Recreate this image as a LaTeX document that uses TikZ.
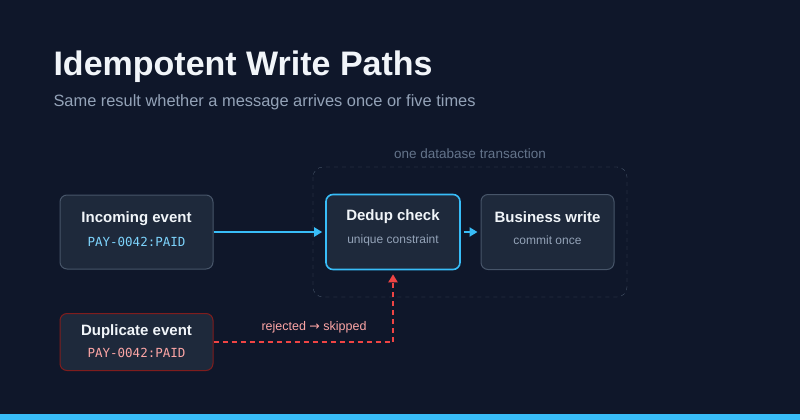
\documentclass[tikz,border=0pt]{standalone}
\usepackage{fontspec}
\setmainfont{Liberation Sans}
\setmonofont{DejaVu Sans Mono}
\newfontfamily\symfont{DejaVu Sans}
\usepackage{tikz}
\usetikzlibrary{arrows.meta}
\definecolor{bgcol}{HTML}{0F172A}
\definecolor{boxfill}{HTML}{1E293B}
\definecolor{boxline}{HTML}{475569}
\definecolor{sky}{HTML}{38BDF8}
\definecolor{skytext}{HTML}{7DD3FC}
\definecolor{redline}{HTML}{EF4444}
\definecolor{redtext}{HTML}{FCA5A5}
\definecolor{redbox}{HTML}{7F1D1D}
\definecolor{titlecol}{HTML}{F1F5F9}
\definecolor{subcol}{HTML}{94A3B8}
\definecolor{mutecol}{HTML}{64748B}

\begin{document}
\begin{tikzpicture}[x=1pt,y=-1pt,
  box/.style={draw=boxline, line width=1pt, fill=boxfill, rounded corners=7pt, minimum width=153pt, minimum height=74pt},
  head/.style={text=titlecol, font=\fontsize{15}{18}\selectfont\bfseries},
  sub/.style={text=subcol, font=\fontsize{12}{14}\selectfont},
  code/.style={font=\fontsize{12.5}{15}\selectfont\ttfamily},
  tip/.style={-{Triangle[length=8pt,width=9pt]}}]
\fill[bgcol] (0,0) rectangle (800,420);
\fill[sky] (0,414) rectangle (800,420);
\node[anchor=base west, text=titlecol, font=\fontsize{34}{40}\selectfont\bfseries] (title) at (50,75) {Idempotent Write Paths};
\node[anchor=base west, text=subcol, font=\fontsize{16.4}{19}\selectfont] (subtitle) at (50,106) {Same result whether a message arrives once or five times};

% transaction frame
\draw[boxline, dashed, dash pattern=on 4pt off 4pt, rounded corners=10pt] (313,167) rectangle (627,297);
\node[text=mutecol, font=\fontsize{13.5}{16}\selectfont] (txn) at (470,154) {one database transaction};

\node[box] (in) at (136.5,232) {};
\node[head] (inh) at ([yshift=13pt]in.center) {Incoming event};
\node[code, text=skytext] (inc) at ([yshift=-10pt]in.center) {PAY-0042:PAID};

\node[box, draw=sky, line width=1.6pt, minimum width=134pt, minimum height=75pt] (dedup) at (393,232) {};
\node[head] (deh) at ([yshift=15pt]dedup.center) {Dedup check};
\node[sub] (des) at ([yshift=-8pt]dedup.center) {unique constraint};

\node[box, minimum width=133pt, minimum height=75pt] (biz) at (547.5,232) {};
\node[head] (bzh) at ([yshift=15pt]biz.center) {Business write};
\node[sub] (bzs) at ([yshift=-8pt]biz.center) {commit once};

\node[box, draw=redbox, minimum height=57pt] (dup) at (136.5,342) {};
\node[head] (duh) at ([yshift=10pt]dup.center) {Duplicate event};
\node[code, text=redtext] (duc) at ([yshift=-11pt]dup.center) {PAY-0042:PAID};

\draw[sky, line width=2pt, tip, shorten >=3pt] (in.east) -- (dedup.west);
\draw[sky, line width=2pt, tip, shorten <=3pt, shorten >=3pt] (dedup.east) -- (biz.west);
\draw[redline, line width=2pt, dashed, dash pattern=on 5pt off 4pt, tip, shorten >=4pt] (dup.east) -| node[pos=0.28, above=5pt, text=redtext, font=\fontsize{12.5}{15}\selectfont] {rejected {\symfont→} skipped} (dedup.south);
\end{tikzpicture}
\end{document}
